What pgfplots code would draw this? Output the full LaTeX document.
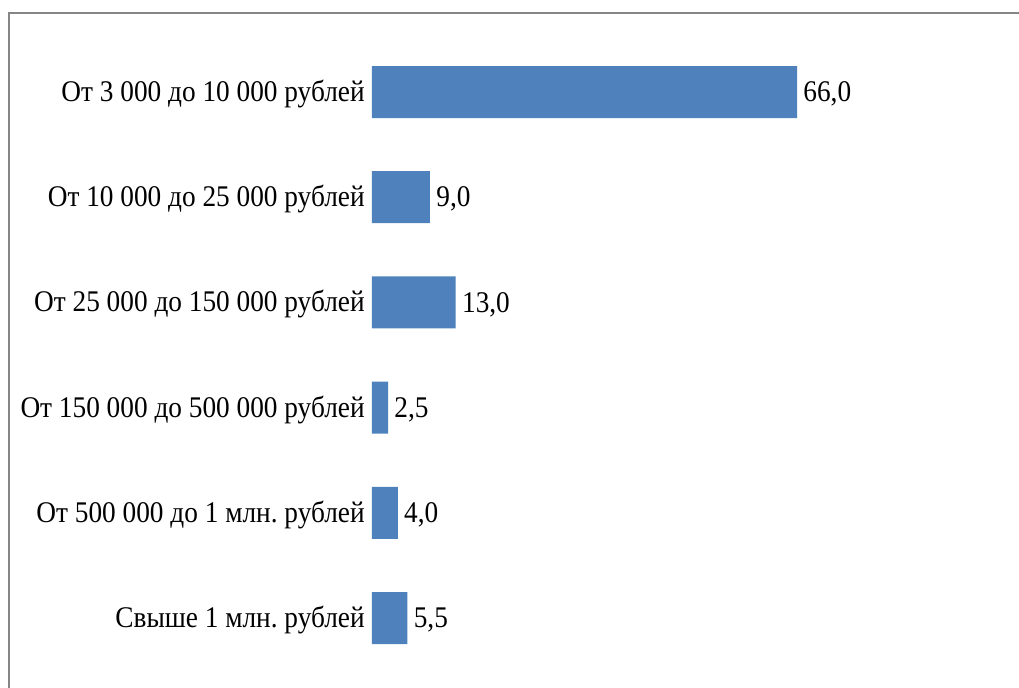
\documentclass[border=0pt]{standalone}
\usepackage{fontspec}
\setmainfont{Liberation Serif}[FakeStretch=0.91]
\usepackage{pgfplots}
\pgfplotsset{compat=1.18}
\definecolor{barblue}{HTML}{4F81BD}
\definecolor{framegray}{HTML}{868686}
\newcommand{\lblfont}{\fontsize{15pt}{18pt}\selectfont\frenchspacing}

\begin{document}
\begin{tikzpicture}
\useasboundingbox (0,0) rectangle (509.5pt,343.5pt);
\draw[framegray, line width=0.9pt] (4.5pt,-1pt) -- (4.5pt,337pt) -- (511pt,337pt);

\begin{axis}[
    at={(186pt,8.2pt)}, anchor=south west,
    scale only axis,
    width=322pt, height=315.6pt,
    xbar, bar width=26pt,
    xmin=0, xmax=100,
    ymin=-0.5, ymax=5.5,
    axis lines*=left,
    axis line style={draw=none},
    xtick=\empty,
    ytick={0,1,2,3,4,5},
    yticklabels={Свыше 1 млн. рублей, От 500 000 до 1 млн. рублей, От 150 000 до 500 000 рублей, От 25 000 до 150 000 рублей, От 10 000 до 25 000 рублей, От 3 000 до 10 000 рублей},
    major tick length=0pt,
    yticklabel style={font=\lblfont, inner sep=0pt, anchor=east, xshift=-3.5pt, yshift=-1pt},
    nodes near coords,
    nodes near coords align={horizontal},
    every node near coord/.append style={font=\lblfont, text=black, inner sep=0pt, anchor=west, xshift=3pt, yshift=-1pt},
    /pgf/number format/.cd, fixed, fixed zerofill, precision=1, use comma, assume math mode=true,
]
\addplot[fill=barblue, draw=none] coordinates {
    (5.5,0) (4.0,1) (2.5,2) (13.0,3) (9.0,4) (66.0,5)
};
\end{axis}
\end{tikzpicture}
\end{document}
